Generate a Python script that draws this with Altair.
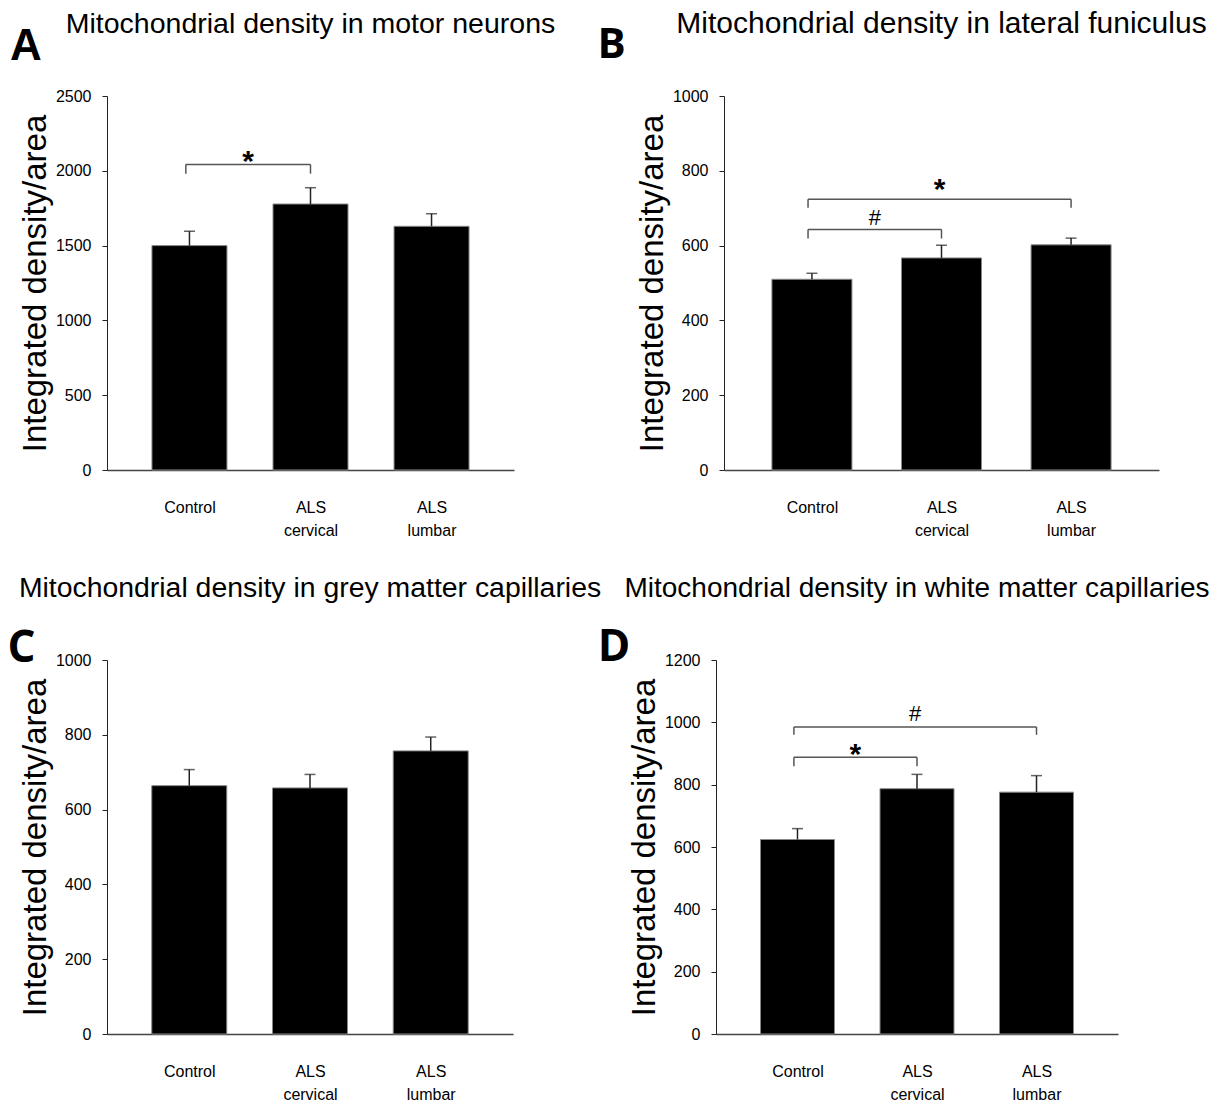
import json
import altair as alt
import pandas as pd

# ---------------- data ----------------
CATEGORY_LINES = [["Control"], ["ALS", "cervical"], ["ALS", "lumbar"]]
POSITIONS = [0, 1, 2]
X_DOMAIN = [-0.64, 2.64]
Y_TITLE = "Integrated density/area"

A_TITLE = "Mitochondrial density in motor neurons"
A_LETTER = "A"
A_MEAN = [1500, 1778, 1629]
A_UPPER = [1596, 1887, 1713]
A_TICKS = [0, 500, 1000, 1500, 2000, 2500]
A_BR_START = [-0.03]
A_BR_END = [1]
A_BR_LEVEL = [2042]
A_BR_DROP = [1981]
A_BR_SYMBOL = ["*"]
A_BR_TEXT_Y = [2112]

B_TITLE = "Mitochondrial density in lateral funiculus"
B_LETTER = "B"
B_MEAN = [510, 567, 602]
B_UPPER = [526, 601, 620]
B_TICKS = [0, 200, 400, 600, 800, 1000]
B_BR_START = [-0.03, -0.03]
B_BR_END = [1, 2]
B_BR_LEVEL = [643, 724]
B_BR_DROP = [619, 701]
B_BR_SYMBOL = ["#", "*"]
B_BR_TEXT_Y = [676, 770]

C_TITLE = "Mitochondrial density in grey matter capillaries"
C_LETTER = "C"
C_MEAN = [664, 658, 757]
C_UPPER = [707, 694, 794]
C_TICKS = [0, 200, 400, 600, 800, 1000]
C_BR_START = []
C_BR_END = []
C_BR_LEVEL = []
C_BR_DROP = []
C_BR_SYMBOL = []
C_BR_TEXT_Y = []

D_TITLE = "Mitochondrial density in white matter capillaries"
D_LETTER = "D"
D_MEAN = [624, 787, 776]
D_UPPER = [659, 833, 829]
D_TICKS = [0, 200, 400, 600, 800, 1000, 1200]
D_BR_START = [-0.03, -0.03]
D_BR_END = [1, 2]
D_BR_LEVEL = [888, 985]
D_BR_DROP = [859, 960]
D_BR_SYMBOL = ["*", "#"]
D_BR_TEXT_Y = [921, 1030]

# ---------------- styling ----------------
SANS = "Liberation Sans"
PLOT_H = 374
LABEL_EXPR = json.dumps(CATEGORY_LINES) + "[datum.value]"


def panel(title, title_size, letter, letter_font, letter_size, letter_dx, letter_y,
          mean, upper, ticks, br_start, br_end, br_level, br_drop, br_symbol, br_text_y,
          width, bar_size):
    ymax = ticks[-1]
    xs = alt.Scale(domain=X_DOMAIN, nice=False, zero=False)
    ys = alt.Scale(domain=[0, ymax], nice=False)
    x_axis = alt.Axis(values=POSITIONS, labelExpr=LABEL_EXPR, ticks=False, grid=False,
                      title=None, labelFont=SANS, labelFontSize=16, labelColor="black",
                      labelPadding=29, labelLineHeight=23, labelFlush=False,
                      labelOverlap=False, domainColor="#444", domainWidth=1.5)
    y_axis = alt.Axis(values=ticks, format="d", grid=False, title=Y_TITLE, titleFont=SANS,
                      titleFontSize=33, titleFontWeight="normal", titleColor="black",
                      titlePadding=3, labelFont=SANS, labelFontSize=16,
                      labelColor="black", labelPadding=11, tickSize=5, tickColor="#222",
                      domainColor="#222", domainWidth=1)

    bars_df = pd.DataFrame({"pos": POSITIONS, "y": mean, "y2": upper})
    X = alt.X("pos:Q", scale=xs, axis=x_axis)
    Y = alt.Y("y:Q", scale=ys, axis=y_axis)

    bars = alt.Chart(bars_df).mark_bar(size=bar_size, color="black", stroke="#888",
                                       strokeWidth=1).encode(x=X, y=Y)
    err = alt.Chart(bars_df).mark_rule(color="#222", strokeWidth=1.5).encode(
        x="pos:Q", y="y:Q", y2="y2:Q")
    cap_df = pd.DataFrame({"pos": POSITIONS, "y": upper})
    cap = alt.Chart(cap_df).mark_tick(orient="horizontal", size=11, thickness=1.5,
                                      color="#222").encode(x="pos:Q", y="y:Q")

    layers = [bars, err, cap]

    if br_level:
        h_df = pd.DataFrame({"pos": br_start, "pos2": br_end, "y": br_level})
        hline = alt.Chart(h_df).mark_rule(color="#555", strokeWidth=1.5).encode(
            x="pos:Q", x2="pos2:Q", y="y:Q")
        v_df = pd.DataFrame({"pos": br_start + br_end, "y": br_level + br_level,
                             "y2": br_drop + br_drop})
        vline = alt.Chart(v_df).mark_rule(color="#555", strokeWidth=1.5).encode(
            x="pos:Q", y="y:Q", y2="y2:Q")
        t_df = pd.DataFrame({"pos": [(s + e) / 2 for s, e in zip(br_start, br_end)],
                             "y": br_text_y, "sym": br_symbol})
        star = alt.Chart(t_df).transform_filter(alt.datum.sym == "*").mark_text(
            font=SANS, fontSize=30, fontWeight="bold", baseline="alphabetic",
            align="center", dy=17, color="black").encode(x="pos:Q", y="y:Q", text="sym:N")
        hashm = alt.Chart(t_df).transform_filter(alt.datum.sym == "#").mark_text(
            font=SANS, fontSize=22, baseline="alphabetic", align="center", dy=8,
            color="black").encode(x="pos:Q", y="y:Q", text="sym:N")
        layers += [hline, vline, star, hashm]

    title_mark = alt.Chart(pd.DataFrame({"t": [title]})).mark_text(
        font=SANS, fontSize=title_size, align="center", baseline="alphabetic",
        color="black").encode(text="t:N", x=alt.value(width / 2), y=alt.value(-63))
    letter_mark = alt.Chart(pd.DataFrame({"t": [letter]})).mark_text(
        font=letter_font, fontSize=letter_size, fontWeight="bold", align="center",
        baseline="alphabetic", color="black").encode(
        text="t:N", x=alt.value(letter_dx), y=alt.value(letter_y))
    layers += [title_mark, letter_mark]

    return alt.layer(*layers).properties(width=width, height=PLOT_H)


pA = panel(A_TITLE, 28.5, A_LETTER, SANS, 44, -81, -36, A_MEAN, A_UPPER, A_TICKS,
           A_BR_START, A_BR_END, A_BR_LEVEL, A_BR_DROP, A_BR_SYMBOL, A_BR_TEXT_Y, 407, 75)
pB = panel(B_TITLE, 30, B_LETTER, "Open Sans", 42, -112.5, -38, B_MEAN, B_UPPER, B_TICKS,
           B_BR_START, B_BR_END, B_BR_LEVEL, B_BR_DROP, B_BR_SYMBOL, B_BR_TEXT_Y, 435, 80)
pC = panel(C_TITLE, 28.4, C_LETTER, "Open Sans", 44, -85.5, 2, C_MEAN, C_UPPER, C_TICKS,
           C_BR_START, C_BR_END, C_BR_LEVEL, C_BR_DROP, C_BR_SYMBOL, C_BR_TEXT_Y, 406, 75)
pD = panel(D_TITLE, 28, D_LETTER, "Open Sans", 44, -102, 1, D_MEAN, D_UPPER, D_TICKS,
           D_BR_START, D_BR_END, D_BR_LEVEL, D_BR_DROP, D_BR_SYMBOL, D_BR_TEXT_Y, 402, 74)

row1 = alt.hconcat(pA, pB, spacing=210, bounds="flush")
row2 = alt.hconcat(pC, pD, spacing=203, bounds="flush")

chart = alt.vconcat(row1, row2, spacing=36).properties(
    padding={"left": 7, "top": 9, "right": 0, "bottom": 0},
    background="white",
).configure_view(stroke=None)

chart.save("out.html", embed_options={"renderer": "svg", "actions": False})
